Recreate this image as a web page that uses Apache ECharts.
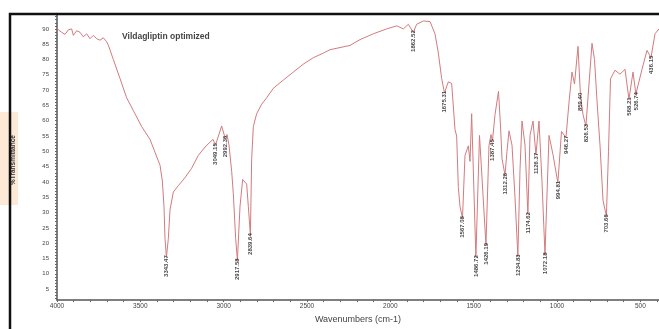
<!DOCTYPE html>
<html>
<head>
<meta charset="utf-8">
<script src="https://cdn.jsdelivr.net/npm/echarts@6/dist/echarts.min.js"></script>
<style>
  html, body { margin: 0; padding: 0; background: #fff; }
  #chart { width: 659px; height: 329px; }
</style>
</head>
<body>
<div id="chart"></div>
<script>
// FTIR spectrum: wavenumber (cm-1) against % transmittance
const wavenumber = [
  4000, 3990, 3972, 3952, 3932, 3912, 3902, 3882, 3862, 3842, 3822, 3802, 3782, 3762, 3742, 3722, 3702, 3692,
  3662, 3622, 3582, 3542, 3492, 3442, 3412, 3382, 3368, 3358, 3352, 3343.47, 3332, 3322, 3302, 3272, 3232, 3192,
  3152, 3112, 3082, 3064, 3049.15, 3012, 2992.36, 2980, 2968, 2952, 2942, 2928, 2917.58, 2902, 2886, 2876, 2862,
  2852, 2839.64, 2832, 2822, 2802, 2772, 2742, 2702, 2642, 2582, 2522, 2462, 2402, 2362, 2242, 2182, 2102, 2022,
  1962, 1922, 1892, 1862.52, 1842, 1802, 1762, 1732, 1712, 1692, 1675.31, 1652, 1632, 1612, 1602, 1592, 1582,
  1567.08, 1552, 1532, 1522, 1512, 1486.72, 1465, 1426.19, 1408, 1396, 1387.45, 1372, 1351, 1339, 1330, 1312.26,
  1300, 1288, 1270, 1252, 1234.83, 1222, 1210, 1192, 1174.62, 1162, 1144, 1126.37, 1108, 1090, 1072.18, 1048,
  1024, 994.81, 973, 946.27, 928, 910, 895, 874, 859.40, 844, 826.53, 808, 790, 775, 760, 742, 724, 703.66, 691,
  679, 652, 622, 592, 568.21, 544, 526.74, 490, 460, 436.15, 412, 388
];
const transmittance = [
  90.4, 89.6, 88.9, 88.2, 89.7, 90.0, 87.9, 89.4, 88.9, 87.4, 88.4, 86.8, 87.9, 86.8, 86.3, 87.1, 85.8, 84.7,
  80.0, 73.8, 67.5, 63.3, 58.1, 53.9, 49.7, 45.5, 40.3, 32.0, 21.5, 15.4, 21.5, 30.9, 36.7, 38.8, 41.4, 44.5,
  48.7, 51.4, 53.0, 53.9, 52.0, 58.3, 54.5, 55.5, 52.0, 43.5, 36.1, 21.5, 14.4, 32.0, 40.8, 41.4, 39.3,
  32.0, 22.6, 47.6, 58.1, 62.3, 65.4, 67.5, 70.6, 73.3, 75.9, 78.5, 80.6, 82.1, 83.2, 84.6, 86.5, 88.4, 90.0,
  91.0, 90.0, 91.5, 88.9, 91.5, 92.6, 92.4, 88.4, 82.1, 73.8, 69.1, 72.7, 72.2, 57.1, 55.0, 38.2, 32.0,
  28.2, 48.7, 51.8, 46.7, 62.3, 15.4, 55.2, 19.4, 52.0, 55.5, 53.3, 62.0, 69.6, 58.3, 47.6, 42.3,
  50.0, 56.7, 52.0, 35.0, 15.7, 44.0, 59.9, 52.0, 29.5, 55.2, 59.9, 48.9, 59.9, 40.0, 16.3, 55.2,
  48.9, 39.7, 56.5, 54.5, 66.0, 75.9, 72.0, 84.3, 68.5, 62.0, 58.3, 72.0, 85.3, 80.0, 66.5, 52.0, 34.0, 28.8, 50.0,
  73.7, 76.5, 75.2, 76.8, 67.0, 75.9, 68.7, 76.8, 83.0, 80.6, 88.4, 90.0
];
// Annotated absorption bands (cm-1)
const peakWavenumber = [
  3343.47, 3049.15, 2992.36, 2917.58, 2839.64, 1862.52, 1675.31, 1567.08, 1486.72, 1426.19, 1387.45, 1312.26,
  1234.83, 1174.62, 1126.37, 1072.18, 994.81, 946.27, 859.40, 826.53, 703.66, 568.21, 526.74, 436.15
];
const xTicks = [4000, 3500, 3000, 2500, 2000, 1500, 1000, 500];
const yTicks = [5, 10, 15, 20, 25, 30, 35, 40, 45, 50, 55, 60, 65, 70, 75, 80, 85, 90];
const titleText = 'Vildagliptin optimized';
const xName = 'Wavenumbers (cm-1)';
const yName = '%Transmittance';

const spectrum = wavenumber.map((w, i) => [w, transmittance[i]]);
const peaks = peakWavenumber.map(w => [w, transmittance[wavenumber.indexOf(w)]]);
const yMinor = [];
for (let v = 2; v <= 94; v++) yMinor.push(v);
const xMinor = [];
for (let v = 4000; v >= 400; v -= 100) xMinor.push(v);

const chart = echarts.init(document.getElementById('chart'), null, { renderer: 'canvas' });
chart.setOption({
  animation: false,
  backgroundColor: '#ffffff',
  title: {
    text: titleText,
    left: 117, top: 27,
    textStyle: { fontFamily: 'Liberation Sans', fontSize: 8.5, fontWeight: 'bold', color: '#444' }
  },
  grid: { left: 57, right: 0, top: 13.6, bottom: 17 },
  xAxis: {
    type: 'value', inverse: true, min: 388, max: 4000,
    name: xName, nameLocation: 'middle', nameGap: 12,
    nameTextStyle: { fontFamily: 'Liberation Sans', fontSize: 9, color: '#444' },
    axisLine: { lineStyle: { color: '#555', width: 1.5 } },
    axisTick: { customValues: xMinor, length: 2, lineStyle: { color: '#666' } },
    axisLabel: { customValues: xTicks, formatter: v => String(v),
                 fontFamily: 'Liberation Sans', fontSize: 6.5, color: '#444', margin: 3 },
    splitLine: { show: false }
  },
  yAxis: {
    type: 'value', min: 1.4, max: 95,
    axisLine: { show: true, lineStyle: { color: '#555', width: 1.5 } },
    axisTick: { show: true, customValues: yMinor, length: 2, lineStyle: { color: '#666' } },
    axisLabel: { customValues: yTicks, fontFamily: 'Liberation Sans', fontSize: 6, color: '#444', margin: 8 },
    splitLine: { show: false }
  },
  graphic: [
    { type: 'rect', z: 0, shape: { x: 0, y: 112, width: 18, height: 93 }, style: { fill: '#fde9d6' } },
    { type: 'text', z: 1, x: 13, y: 160, rotation: Math.PI / 2,
      style: { text: yName, fontFamily: 'Liberation Sans', fontSize: 6.5, fontWeight: 'bold', fill: '#333',
               align: 'center', verticalAlign: 'middle' } },
    { type: 'rect', z: 2, shape: { x: 10, y: 14, width: 700, height: 400 },
      style: { fill: 'none', stroke: '#111', lineWidth: 2.5 } }
  ],
  series: [
    {
      type: 'line', data: spectrum, showSymbol: false, silent: true,
      lineStyle: { color: '#d27b7e', width: 1 }
    },
    {
      type: 'scatter', data: peaks, symbolSize: 0, silent: true, z: 5,
      label: {
        show: true, position: 'bottom', distance: 2, rotate: 90,
        align: 'right', verticalAlign: 'middle', offset: [4, 0],
        fontFamily: 'Liberation Sans', fontSize: 6, fontWeight: 'bold', color: '#111',
        formatter: p => p.value[0].toFixed(2)
      }
    }
  ]
});
</script>
</body>
</html>
